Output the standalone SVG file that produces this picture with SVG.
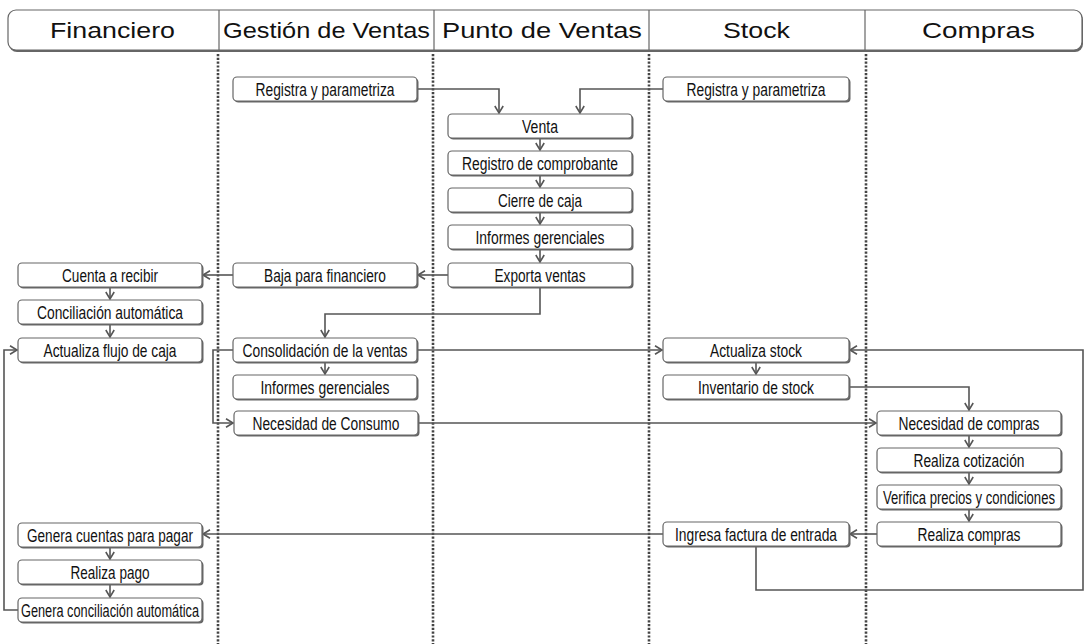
<svg xmlns="http://www.w3.org/2000/svg" width="1086" height="644" viewBox="0 0 1086 644">
<defs>
<style>
.hd{font-family:"Liberation Sans",Arial,sans-serif;font-size:22px;fill:#111;text-anchor:middle}
.t{font-family:"Liberation Sans",Arial,sans-serif;font-size:17.5px;fill:#111;text-anchor:middle}
.sh{fill:#666;stroke:none}
.bx{fill:#fff;stroke:#666;stroke-width:1.2}
.dot{stroke:#444;stroke-width:2.6;stroke-dasharray:2.2 1.6;fill:none}
.c{fill:none;stroke:#555;stroke-width:1.6}
</style>
<marker id="ar" markerUnits="userSpaceOnUse" markerWidth="12" markerHeight="12" refX="8" refY="5" orient="auto">
<path d="M1,0.8 L8,5 L1,9.2" fill="none" stroke="#555" stroke-width="1.6"/>
</marker>
</defs>
<rect width="1086" height="644" fill="#fff"/>
<g id="header">
<rect x="9" y="12" width="1074" height="40" rx="8" class="sh"/>
<rect x="8" y="10" width="1074" height="40" rx="8" class="bx"/>
<line x1="219" y1="10" x2="219" y2="50" stroke="#666" stroke-width="1.2"/>
<line x1="434" y1="10" x2="434" y2="50" stroke="#666" stroke-width="1.2"/>
<line x1="649" y1="10" x2="649" y2="50" stroke="#666" stroke-width="1.2"/>
<line x1="865" y1="10" x2="865" y2="50" stroke="#666" stroke-width="1.2"/>
<text class="hd" x="112.5" y="37.5" textLength="125" lengthAdjust="spacingAndGlyphs">Financiero</text>
<text class="hd" x="326.5" y="37.5" textLength="207" lengthAdjust="spacingAndGlyphs">Gestión de Ventas</text>
<text class="hd" x="542" y="37.5" textLength="200" lengthAdjust="spacingAndGlyphs">Punto de Ventas</text>
<text class="hd" x="756.5" y="37.5" textLength="67" lengthAdjust="spacingAndGlyphs">Stock</text>
<text class="hd" x="978.5" y="37.5" textLength="113" lengthAdjust="spacingAndGlyphs">Compras</text>
</g>
<g id="lanes">
<line class="dot" x1="218" y1="54" x2="218" y2="644"/>
<line class="dot" x1="433" y1="54" x2="433" y2="644"/>
<line class="dot" x1="649" y1="54" x2="649" y2="644"/>
<line class="dot" x1="866" y1="54" x2="866" y2="644"/>
</g>
<g id="connectors">
<path class="c" marker-end="url(#ar)" d="M416,89 H499 V113"/>
<path class="c" marker-end="url(#ar)" d="M663,89 H580 V113"/>
<path class="c" marker-end="url(#ar)" d="M540,138 V150"/>
<path class="c" marker-end="url(#ar)" d="M540,175 V187"/>
<path class="c" marker-end="url(#ar)" d="M540,212 V224"/>
<path class="c" marker-end="url(#ar)" d="M540,249 V262"/>
<path class="c" marker-end="url(#ar)" d="M448,275 H418"/>
<path class="c" marker-end="url(#ar)" d="M233,275 H203"/>
<path class="c" marker-end="url(#ar)" d="M110,287 V299"/>
<path class="c" marker-end="url(#ar)" d="M110,324 V337"/>
<path class="c" marker-end="url(#ar)" d="M540,287 V314 H325 V337"/>
<path class="c" marker-end="url(#ar)" d="M325,362 V374"/>
<path class="c" marker-end="url(#ar)" d="M233,350 H213 V423 H233"/>
<path class="c" marker-end="url(#ar)" d="M417,350 H662"/>
<path class="c" marker-end="url(#ar)" d="M756,362 V374"/>
<path class="c" marker-end="url(#ar)" d="M849,387 H969 V410"/>
<path class="c" marker-end="url(#ar)" d="M418,423 H876"/>
<path class="c" marker-end="url(#ar)" d="M969,435 V447"/>
<path class="c" marker-end="url(#ar)" d="M969,472 V484"/>
<path class="c" marker-end="url(#ar)" d="M969,509 V521"/>
<path class="c" marker-end="url(#ar)" d="M877,534 H850"/>
<path class="c" marker-end="url(#ar)" d="M663,534 H203"/>
<path class="c" marker-end="url(#ar)" d="M756,546 V590 H1083 V350 H850"/>
<path class="c" marker-end="url(#ar)" d="M110,547 V559"/>
<path class="c" marker-end="url(#ar)" d="M110,584 V597"/>
<path class="c" marker-end="url(#ar)" d="M18,610 H4 V350 H17"/>
</g>
<g id="gv-registra"><rect class="sh" x="234.5" y="78.5" width="184" height="24" rx="4"/><rect class="bx" x="233" y="77" width="184" height="24" rx="4"/><text class="t" x="325" y="95.5" textLength="139" lengthAdjust="spacingAndGlyphs">Registra y parametriza</text></g>
<g id="st-registra"><rect class="sh" x="664.5" y="78.5" width="186" height="24" rx="4"/><rect class="bx" x="663" y="77" width="186" height="24" rx="4"/><text class="t" x="756" y="95.5" textLength="139" lengthAdjust="spacingAndGlyphs">Registra y parametriza</text></g>
<g id="venta"><rect class="sh" x="449.5" y="115.5" width="184" height="24" rx="4"/><rect class="bx" x="448" y="114" width="184" height="24" rx="4"/><text class="t" x="540" y="132.5" textLength="36" lengthAdjust="spacingAndGlyphs">Venta</text></g>
<g id="registro"><rect class="sh" x="449.5" y="152.5" width="184" height="24" rx="4"/><rect class="bx" x="448" y="151" width="184" height="24" rx="4"/><text class="t" x="540" y="169.5" textLength="156" lengthAdjust="spacingAndGlyphs">Registro de comprobante</text></g>
<g id="cierre"><rect class="sh" x="449.5" y="189.5" width="184" height="24" rx="4"/><rect class="bx" x="448" y="188" width="184" height="24" rx="4"/><text class="t" x="540" y="206.5" textLength="84" lengthAdjust="spacingAndGlyphs">Cierre de caja</text></g>
<g id="pv-informes"><rect class="sh" x="449.5" y="226.5" width="184" height="24" rx="4"/><rect class="bx" x="448" y="225" width="184" height="24" rx="4"/><text class="t" x="540" y="243.5" textLength="129" lengthAdjust="spacingAndGlyphs">Informes gerenciales</text></g>
<g id="exporta"><rect class="sh" x="449.5" y="264.5" width="184" height="24" rx="4"/><rect class="bx" x="448" y="263" width="184" height="24" rx="4"/><text class="t" x="540" y="281.5" textLength="91" lengthAdjust="spacingAndGlyphs">Exporta ventas</text></g>
<g id="baja"><rect class="sh" x="234.5" y="264.5" width="184" height="24" rx="4"/><rect class="bx" x="233" y="263" width="184" height="24" rx="4"/><text class="t" x="325" y="281.5" textLength="122" lengthAdjust="spacingAndGlyphs">Baja para financiero</text></g>
<g id="cuenta"><rect class="sh" x="19.5" y="264.5" width="184" height="24" rx="4"/><rect class="bx" x="18" y="263" width="184" height="24" rx="4"/><text class="t" x="110" y="281.5" textLength="96" lengthAdjust="spacingAndGlyphs">Cuenta a recibir</text></g>
<g id="conciliacion"><rect class="sh" x="19.5" y="301.5" width="184" height="24" rx="4"/><rect class="bx" x="18" y="300" width="184" height="24" rx="4"/><text class="t" x="110" y="318.5" textLength="146" lengthAdjust="spacingAndGlyphs">Conciliación automática</text></g>
<g id="flujo"><rect class="sh" x="19.5" y="339.5" width="184" height="24" rx="4"/><rect class="bx" x="18" y="338" width="184" height="24" rx="4"/><text class="t" x="110" y="356.5" textLength="133" lengthAdjust="spacingAndGlyphs">Actualiza flujo de caja</text></g>
<g id="consolidacion"><rect class="sh" x="234.5" y="339.5" width="184" height="24" rx="4"/><rect class="bx" x="233" y="338" width="184" height="24" rx="4"/><text class="t" x="325" y="356.5" textLength="165" lengthAdjust="spacingAndGlyphs">Consolidación de la ventas</text></g>
<g id="gv-informes"><rect class="sh" x="234.5" y="376.5" width="184" height="24" rx="4"/><rect class="bx" x="233" y="375" width="184" height="24" rx="4"/><text class="t" x="325" y="393.5" textLength="129" lengthAdjust="spacingAndGlyphs">Informes gerenciales</text></g>
<g id="consumo"><rect class="sh" x="235.5" y="412.5" width="184" height="24" rx="4"/><rect class="bx" x="234" y="411" width="184" height="24" rx="4"/><text class="t" x="326" y="429.5" textLength="147" lengthAdjust="spacingAndGlyphs">Necesidad de Consumo</text></g>
<g id="act-stock"><rect class="sh" x="664.5" y="339.5" width="186" height="24" rx="4"/><rect class="bx" x="663" y="338" width="186" height="24" rx="4"/><text class="t" x="756" y="356.5" textLength="92" lengthAdjust="spacingAndGlyphs">Actualiza stock</text></g>
<g id="inventario"><rect class="sh" x="664.5" y="376.5" width="186" height="24" rx="4"/><rect class="bx" x="663" y="375" width="186" height="24" rx="4"/><text class="t" x="756" y="393.5" textLength="116" lengthAdjust="spacingAndGlyphs">Inventario de stock</text></g>
<g id="nec-compras"><rect class="sh" x="878.5" y="412.5" width="184" height="24" rx="4"/><rect class="bx" x="877" y="411" width="184" height="24" rx="4"/><text class="t" x="969" y="429.5" textLength="141" lengthAdjust="spacingAndGlyphs">Necesidad de compras</text></g>
<g id="cotizacion"><rect class="sh" x="878.5" y="449.5" width="184" height="24" rx="4"/><rect class="bx" x="877" y="448" width="184" height="24" rx="4"/><text class="t" x="969" y="466.5" textLength="111" lengthAdjust="spacingAndGlyphs">Realiza cotización</text></g>
<g id="verifica"><rect class="sh" x="878.5" y="486.5" width="184" height="24" rx="4"/><rect class="bx" x="877" y="485" width="184" height="24" rx="4"/><text class="t" x="969" y="503.5" textLength="172" lengthAdjust="spacingAndGlyphs">Verifica precios y condiciones</text></g>
<g id="realiza-compras"><rect class="sh" x="878.5" y="523.5" width="184" height="24" rx="4"/><rect class="bx" x="877" y="522" width="184" height="24" rx="4"/><text class="t" x="969" y="540.5" textLength="103" lengthAdjust="spacingAndGlyphs">Realiza compras</text></g>
<g id="ingresa"><rect class="sh" x="664.5" y="523.5" width="186" height="24" rx="4"/><rect class="bx" x="663" y="522" width="186" height="24" rx="4"/><text class="t" x="756" y="540.5" textLength="162" lengthAdjust="spacingAndGlyphs">Ingresa factura de entrada</text></g>
<g id="genera-cuentas"><rect class="sh" x="19.5" y="524.5" width="184" height="24" rx="4"/><rect class="bx" x="18" y="523" width="184" height="24" rx="4"/><text class="t" x="110" y="541.5" textLength="166" lengthAdjust="spacingAndGlyphs">Genera cuentas para pagar</text></g>
<g id="pago"><rect class="sh" x="19.5" y="561.5" width="184" height="24" rx="4"/><rect class="bx" x="18" y="560" width="184" height="24" rx="4"/><text class="t" x="110" y="578.5" textLength="79" lengthAdjust="spacingAndGlyphs">Realiza pago</text></g>
<g id="genera-conciliacion"><rect class="sh" x="19.5" y="599.5" width="184" height="24" rx="4"/><rect class="bx" x="18" y="598" width="184" height="24" rx="4"/><text class="t" x="110" y="616.5" textLength="178" lengthAdjust="spacingAndGlyphs">Genera conciliación automática</text></g>
</svg>
